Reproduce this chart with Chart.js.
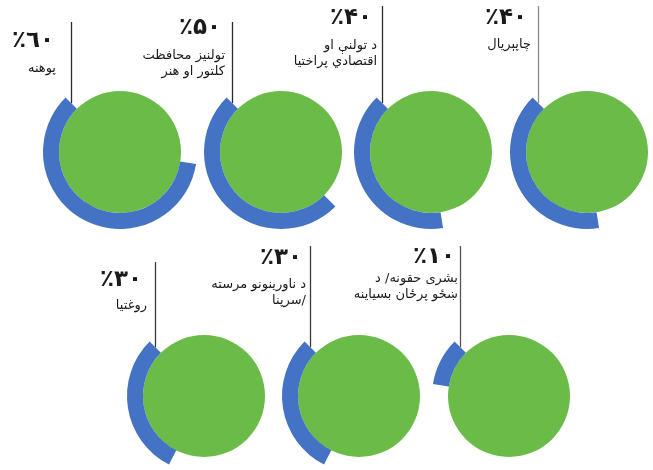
<!DOCTYPE html>
<html>
<head>
<meta charset="utf-8">
<script src="https://cdn.jsdelivr.net/npm/chart.js@4.4.0/dist/chart.umd.min.js"></script>
<style>
  html, body { margin:0; padding:0; background:#fff; }
  #wrap { position:relative; width:653px; height:470px; overflow:hidden; background:#fff; }
  canvas { position:absolute; }
  .pct { position:absolute; font-family:"DejaVu Sans", sans-serif; font-weight:bold; font-size:23px; line-height:26px; color:#1a1a1a; direction:ltr; white-space:nowrap; text-align:right; }
  .lbl { position:absolute; font-family:"DejaVu Sans", sans-serif; font-size:13px; line-height:16px; color:#1a1a1a; text-align:right; }
  .lbl .ln { direction:rtl; white-space:nowrap; text-align:right; }
</style>
</head>
<body>
<div id="wrap"></div>
<script>
// ---- data ----
const percents = [60, 50, 40, 40, 30, 30, 10];
const percentLabels = ['٪٦٠', '٪۵۰', '٪۴۰', '٪۴۰', '٪۳۰', '٪۳۰', '٪۱۰'];
const categoryLines = [
  ['پوهنه'],
  ['تولنیز محافظت', 'کلتور او هنر'],
  ['د تولنې او', 'اقتصادي پراختیا'],
  ['چاپېريال'],
  ['روغتیا'],
  ['د ناورینونو مرسته', '/سرپنا'],
  ['بشری حقونه/ د', 'ښځو پرځان بسیاینه']
];

// ---- layout (positions / styles only) ----
const layout = [
  {cx:120, cy:152, lineTop:22,  pctRight:54,  pctTop:26,  lblRight:56,  lblTop:60,  lineColor:'#2b2b2b'},
  {cx:281, cy:152, lineTop:22,  pctRight:221, pctTop:13,  lblRight:225, lblTop:47,  lineColor:'#2b2b2b'},
  {cx:431, cy:152, lineTop:6,   pctRight:372, pctTop:3,   lblRight:377, lblTop:37,  lineColor:'#2b2b2b'},
  {cx:587, cy:152, lineTop:6,   pctRight:527, pctTop:3,   lblRight:531, lblTop:36,  lineColor:'#8a8a8a'},
  {cx:204, cy:396, lineTop:262, pctRight:142, pctTop:265, lblRight:147, lblTop:297, lineColor:'#3a3a3a'},
  {cx:359, cy:396, lineTop:246, pctRight:302, pctTop:243, lblRight:306, lblTop:276, lineColor:'#3a3a3a'},
  {cx:509, cy:396, lineTop:246, pctRight:455, pctTop:242, lblRight:458, lblTop:270, lineColor:'#555'}
];
const BLUE = '#4472C4';
const GREEN = '#6ABB47';
const OUTER_R = 77;
const RING_W = 16;

const wrap = document.getElementById('wrap');

const leaderLine = {
  id: 'leaderLine',
  beforeDatasetsDraw(chart, args, opts) {
    const arc = chart.getDatasetMeta(0).data[1];
    const rMid = (arc.innerRadius + arc.outerRadius) / 2;
    const x = arc.x + Math.cos(arc.endAngle) * rMid;
    const y = arc.y + Math.sin(arc.endAngle) * rMid;
    const ctx = chart.ctx;
    ctx.save();
    ctx.strokeStyle = opts.color;
    ctx.lineWidth = 1.3;
    ctx.beginPath();
    ctx.moveTo(Math.round(x) + 0.5, 0);
    ctx.lineTo(Math.round(x) + 0.5, y);
    ctx.stroke();
    ctx.restore();
  }
};

percents.forEach((p, i) => {
  const L = layout[i];
  const W = 170;
  const H = (L.cy + 85) - L.lineTop;
  const cv = document.createElement('canvas');
  cv.width = W; cv.height = H;
  cv.style.left = (L.cx - W / 2) + 'px';
  cv.style.top = L.lineTop + 'px';
  cv.style.width = W + 'px';
  cv.style.height = H + 'px';
  wrap.appendChild(cv);

  new Chart(cv, {
    type: 'doughnut',
    data: {
      labels: ['', categoryLines[i].join(' ')],
      datasets: [
        { data: [100 - p, p], backgroundColor: ['rgba(0,0,0,0)', BLUE], borderWidth: 0, weight: RING_W },
        { data: [100], backgroundColor: [GREEN], borderWidth: 0, weight: OUTER_R - RING_W }
      ]
    },
    options: {
      responsive: false,
      animation: false,
      events: [],
      rotation: -45,
      cutout: 0,
      radius: OUTER_R,
      layout: { padding: { top: H - W, left: 0, right: 0, bottom: 0 } },
      plugins: {
        legend: { display: false },
        tooltip: { enabled: false },
        leaderLine: { color: L.lineColor }
      }
    },
    plugins: [leaderLine]
  });

  const pd = document.createElement('div');
  pd.className = 'pct';
  pd.textContent = percentLabels[i];
  pd.style.right = (653 - L.pctRight) + 'px';
  pd.style.top = L.pctTop + 'px';
  wrap.appendChild(pd);

  const ld = document.createElement('div');
  ld.className = 'lbl';
  ld.style.right = (653 - L.lblRight) + 'px';
  ld.style.top = L.lblTop + 'px';
  categoryLines[i].forEach(line => {
    const ln = document.createElement('div');
    ln.className = 'ln';
    ln.textContent = line;
    ld.appendChild(ln);
  });
  wrap.appendChild(ld);
});
</script>
</body>
</html>
